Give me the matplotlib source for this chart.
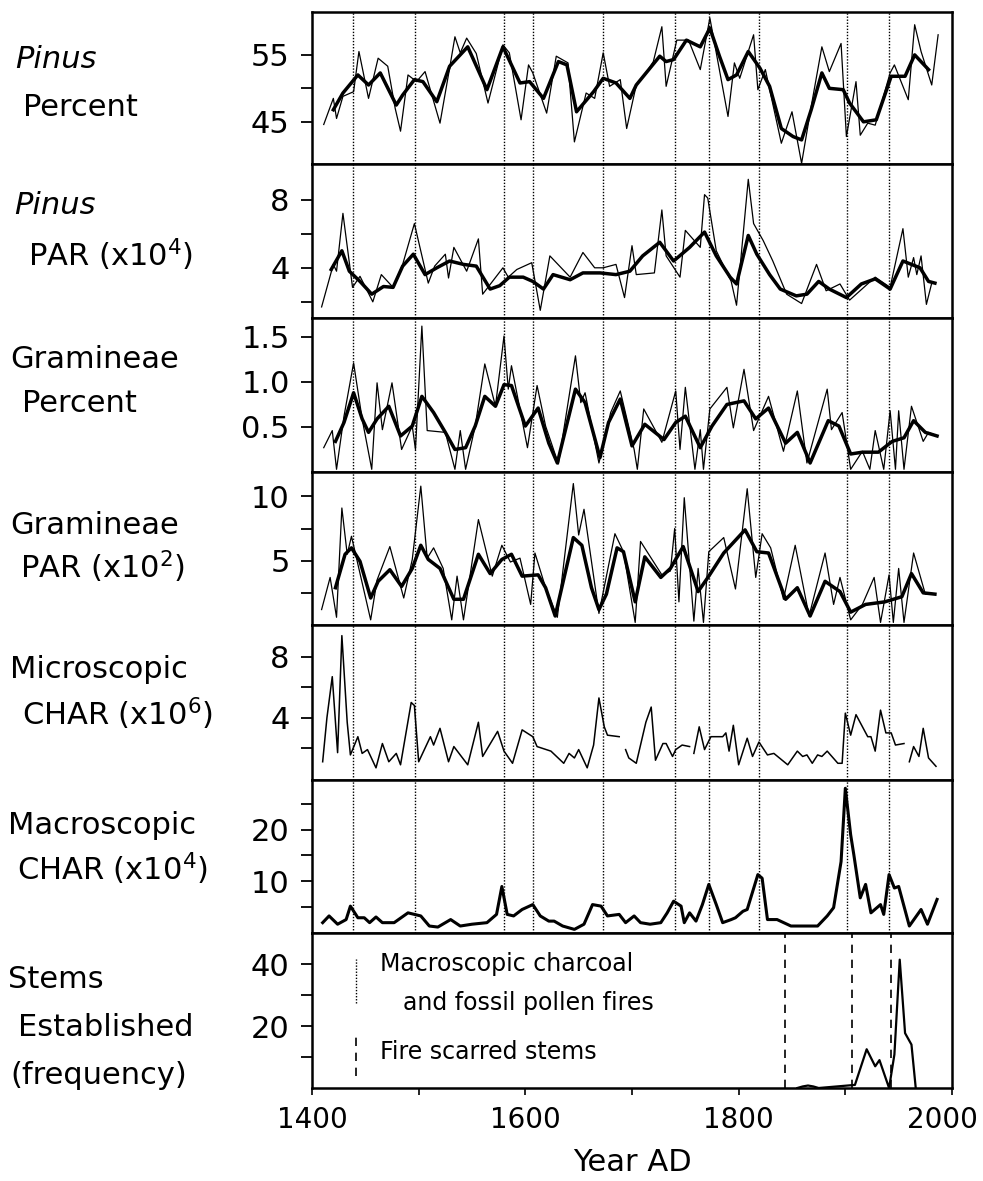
import matplotlib
matplotlib.use("Agg")
import matplotlib.pyplot as plt
from matplotlib.transforms import ScaledTranslation
import numpy as np

plt.rcParams['font.family'] = ['DejaVu Sans']
plt.rcParams['mathtext.fontset'] = 'dejavusans'

# --- fire events (dotted lines, panels 1-6) and fire scarred stems (dashed, panel 7)
fire_years = [1438, 1497, 1580, 1607, 1673, 1740, 1772, 1819, 1902, 1941]
scar_years = [1843, 1906, 1943]

# --- Pinus percent
pin_pct_yr = [1411, 1420, 1423, 1429, 1439, 1444, 1453, 1462, 1471, 1478, 1483, 1490, 1498, 1506,
              1520, 1529, 1534, 1539, 1545, 1554, 1565, 1579, 1585, 1596, 1603, 1607, 1620, 1629,
              1640, 1646, 1657, 1665, 1673, 1679, 1689, 1695, 1704, 1712, 1720, 1728, 1732, 1742,
              1753, 1764, 1773, 1790, 1796, 1801, 1814, 1818, 1825, 1840, 1850, 1859, 1868, 1878,
              1885, 1896, 1901, 1910, 1914, 1921, 1928, 1942, 1946, 1959, 1965, 1971, 1981, 1987]
pin_pct = [44.6, 48.5, 45.5, 48.8, 49.5, 55.5, 48.5, 54.5, 53.3, 47.0, 43.6, 52.0, 51.0, 52.5,
           44.8, 53.0, 57.7, 55.3, 57.5, 55.2, 47.8, 56.5, 55.3, 45.3, 53.5, 52.3, 46.3, 54.8,
           53.8, 42.0, 49.3, 48.5, 55.3, 50.3, 51.3, 44.0, 50.5, 52.0, 54.0, 59.2, 50.3, 57.2,
           57.2, 52.8, 60.5, 45.8, 53.8, 51.5, 58.0, 49.8, 52.8, 41.8, 46.5, 38.8, 47.3, 56.2,
           52.5, 56.7, 42.8, 51.0, 43.0, 44.8, 44.5, 52.3, 53.5, 48.3, 59.5, 55.5, 50.5, 58.0]
pin_pct_sm_yr = [1420, 1429, 1443, 1453, 1464, 1479, 1485, 1496, 1504, 1517, 1529, 1546, 1564,
                 1579, 1595, 1604, 1617, 1631, 1639, 1648, 1664, 1673, 1685, 1698, 1704, 1726,
                 1732, 1739, 1751, 1764, 1773, 1782, 1790, 1798, 1809, 1820, 1829, 1840, 1851,
                 1859, 1868, 1878, 1885, 1898, 1904, 1917, 1929, 1943, 1956, 1965, 1978]
pin_pct_sm = [46.8, 49.3, 52.0, 50.5, 52.3, 47.5, 49.0, 51.3, 51.0, 48.0, 53.3, 56.2, 49.8,
              56.2, 50.8, 51.0, 48.5, 54.0, 53.5, 46.5, 49.5, 51.5, 50.8, 48.5, 50.5, 54.8,
              54.0, 54.3, 57.2, 56.2, 59.0, 54.8, 51.3, 52.0, 55.5, 53.0, 50.3, 44.0, 42.8,
              42.3, 46.8, 52.3, 50.0, 49.8, 47.8, 45.0, 45.3, 51.8, 51.8, 55.0, 52.8]

# --- Pinus PAR (x10^4)
pin_par_yr = [1409, 1420, 1423, 1429, 1438, 1445, 1457, 1465, 1476, 1485, 1496, 1509, 1515, 1525,
              1528, 1533, 1545, 1556, 1560, 1579, 1584, 1592, 1606, 1614, 1623, 1642, 1654, 1665,
              1673, 1685, 1693, 1700, 1704, 1721, 1728, 1732, 1745, 1750, 1764, 1768, 1771, 1779,
              1793, 1798, 1809, 1814, 1823, 1832, 1845, 1859, 1873, 1882, 1895, 1904, 1928, 1942,
              1954, 1959, 1964, 1967, 1971, 1976, 1981, 1984]
pin_par = [1.7, 4.2, 3.8, 7.2, 2.85, 3.5, 2.0, 3.6, 2.85, 4.2, 6.6, 3.1, 4.1, 4.8,
           3.4, 5.2, 3.8, 5.7, 2.45, 4.0, 3.45, 3.9, 4.3, 1.5, 4.7, 3.45, 4.9, 4.0,
           4.0, 4.2, 2.25, 5.3, 3.6, 3.7, 7.4, 4.7, 3.45, 6.2, 5.2, 8.3, 8.1, 5.0,
           3.2, 1.8, 9.2, 6.6, 5.6, 4.4, 2.45, 1.9, 4.2, 2.65, 3.05, 2.1, 3.45, 2.85,
           6.3, 3.45, 4.6, 3.6, 4.7, 1.85, 3.1, 3.1]
pin_par_sm_yr = [1418, 1428, 1435, 1445, 1456, 1467, 1476, 1485, 1495, 1506, 1517, 1529, 1542,
                 1554, 1567, 1576, 1585, 1598, 1607, 1617, 1626, 1642, 1654, 1670, 1685, 1698,
                 1710, 1726, 1739, 1754, 1768, 1779, 1792, 1798, 1809, 1817, 1829, 1839, 1854,
                 1864, 1875, 1885, 1901, 1915, 1928, 1942, 1954, 1970, 1978, 1984]
pin_par_sm = [3.9, 5.0, 3.8, 3.2, 2.45, 2.9, 2.85, 4.1, 4.8, 3.6, 4.0, 4.4, 4.2,
              4.1, 2.75, 2.95, 3.45, 3.45, 3.2, 2.75, 3.6, 3.3, 3.7, 3.7, 3.6, 3.8,
              4.7, 5.5, 4.4, 5.2, 6.1, 4.7, 3.45, 3.05, 5.9, 4.8, 3.6, 2.75, 2.35,
              2.45, 3.2, 2.75, 2.25, 3.05, 3.35, 2.75, 4.4, 4.0, 3.2, 3.1]

# --- Gramineae percent
gra_pct_yr = [1411, 1419, 1423, 1430, 1439, 1447, 1456, 1461, 1466, 1475, 1484, 1494, 1497, 1503,
              1508, 1525, 1534, 1539, 1544, 1553, 1562, 1572, 1580, 1584, 1587, 1602, 1611, 1619,
              1631, 1647, 1652, 1656, 1669, 1680, 1689, 1702, 1705, 1711, 1728, 1741, 1745, 1750,
              1759, 1764, 1767, 1773, 1789, 1795, 1805, 1814, 1828, 1842, 1855, 1864, 1883, 1887,
              1897, 1905, 1916, 1923, 1928, 1936, 1942, 1947, 1950, 1955, 1962, 1973, 1978, 1986]
gra_pct = [0.27, 0.46, 0.03, 0.62, 1.21, 0.59, 0.03, 0.99, 0.47, 0.99, 0.25, 0.51, 0.25, 1.62,
           0.46, 0.44, 0.03, 0.46, 0.03, 0.51, 1.20, 0.73, 1.51, 0.92, 1.18, 0.27, 0.96, 0.51,
           0.09, 1.29, 0.77, 0.88, 0.10, 0.66, 0.90, 0.25, 0.03, 0.70, 0.33, 0.90, 0.25, 0.94,
           0.03, 0.47, 0.03, 0.70, 0.94, 0.49, 1.14, 0.46, 0.84, 0.23, 0.90, 0.10, 0.92, 0.47,
           0.66, 0.03, 0.23, 0.03, 0.46, 0.03, 0.68, 0.03, 0.68, 0.03, 0.73, 0.34, 0.44, 0.40]
gra_pct_sm_yr = [1422, 1430, 1439, 1447, 1453, 1461, 1472, 1483, 1494, 1503, 1514, 1525, 1534,
                 1544, 1553, 1562, 1572, 1580, 1587, 1600, 1612, 1622, 1630, 1647, 1656, 1670,
                 1678, 1689, 1700, 1712, 1730, 1741, 1750, 1764, 1775, 1789, 1805, 1816, 1828,
                 1844, 1855, 1867, 1884, 1894, 1905, 1916, 1931, 1944, 1955, 1964, 1975, 1986]
gra_pct_sm = [0.34, 0.55, 0.88, 0.59, 0.44, 0.59, 0.73, 0.40, 0.51, 0.84, 0.66, 0.44, 0.25,
              0.27, 0.51, 0.84, 0.73, 0.97, 0.96, 0.51, 0.71, 0.32, 0.10, 0.92, 0.77, 0.16,
              0.55, 0.81, 0.29, 0.53, 0.36, 0.55, 0.62, 0.27, 0.51, 0.75, 0.79, 0.59, 0.71,
              0.32, 0.44, 0.10, 0.57, 0.51, 0.20, 0.22, 0.22, 0.34, 0.38, 0.57, 0.44, 0.40]

# --- Gramineae PAR (x10^2)
gra_par_yr = [1409, 1417, 1423, 1428, 1433, 1437, 1455, 1461, 1473, 1486, 1494, 1502, 1508, 1514,
              1523, 1531, 1536, 1542, 1556, 1569, 1578, 1586, 1595, 1605, 1609, 1619, 1630, 1645,
              1650, 1655, 1669, 1684, 1692, 1703, 1708, 1728, 1736, 1740, 1744, 1749, 1758, 1762,
              1767, 1772, 1786, 1797, 1808, 1816, 1822, 1830, 1842, 1853, 1866, 1881, 1889, 1895,
              1905, 1916, 1927, 1933, 1941, 1945, 1950, 1955, 1964, 1975, 1984]
gra_par = [1.2, 3.7, 0.6, 9.1, 5.5, 6.9, 0.4, 3.5, 6.1, 2.1, 5.1, 10.8, 5.2, 6.0,
           4.4, 0.4, 3.8, 0.4, 8.2, 3.8, 6.2, 4.9, 5.2, 1.6, 5.6, 2.9, 0.6, 11.0,
           7.0, 9.0, 0.9, 7.1, 5.7, 0.2, 6.5, 3.9, 4.2, 7.5, 1.8, 9.9, 0.3, 4.4,
           0.2, 5.7, 6.8, 2.8, 10.6, 3.7, 7.1, 6.0, 2.0, 6.2, 0.7, 5.6, 1.6, 3.7,
           0.4, 1.6, 3.7, 0.2, 3.9, 0.2, 4.4, 0.2, 5.6, 2.4, 2.4]
gra_par_sm_yr = [1422, 1431, 1437, 1445, 1455, 1462, 1473, 1484, 1494, 1502, 1509, 1520, 1533,
                 1542, 1556, 1567, 1578, 1587, 1597, 1612, 1619, 1628, 1645, 1653, 1662, 1669,
                 1676, 1686, 1692, 1703, 1712, 1727, 1736, 1748, 1762, 1772, 1786, 1806, 1817,
                 1828, 1844, 1855, 1867, 1881, 1895, 1905, 1919, 1937, 1953, 1962, 1973, 1984]
gra_par_sm = [2.9, 5.5, 6.0, 4.95, 2.1, 3.4, 4.3, 3.0, 4.4, 6.2, 5.1, 4.4, 2.0,
              2.0, 5.5, 4.0, 5.1, 5.5, 3.8, 3.9, 2.9, 0.7, 6.8, 6.2, 2.9, 1.2,
              2.4, 6.0, 5.7, 1.8, 5.3, 3.7, 4.4, 6.1, 2.6, 3.8, 5.6, 7.4, 5.7,
              5.6, 2.0, 2.9, 0.7, 3.4, 2.6, 1.0, 1.6, 1.8, 2.2, 4.0, 2.5, 2.4]

# --- Microscopic CHAR (x10^6), nan = gap in record
mic_yr = [1410, 1414, 1419, 1424, 1428, 1433, 1436, 1443, 1447, 1452, 1460, 1466, 1472, 1479,
          1483, 1493, 1496, 1500, 1511, 1514, 1520, 1528, 1533, 1546, 1556, 1560, 1574, 1580,
          1588, 1597, 1607, 1611, 1624, 1636, 1641, 1646, 1650, 1658, 1664, 1669, 1674, 1677,
          1688, 1691, 1694, 1697, 1704, 1713, 1718, 1722, 1729, 1732, 1738, 1741, 1747, 1754,
          1756, 1758, 1763, 1768, 1774, 1785, 1788, 1791, 1795, 1800, 1808, 1813, 1819, 1827,
          1833, 1846, 1855, 1860, 1864, 1869, 1874, 1878, 1883, 1893, 1897, 1900, 1905, 1910,
          1921, 1924, 1928, 1933, 1938, 1943, 1947, 1955, 1957, 1960, 1964, 1969, 1973, 1978, 1985]
mic = [1.1, 4.0, 6.7, 1.7, 9.4, 3.7, 1.55, 2.75, 1.65, 1.9, 0.7, 2.3, 1.1, 1.65,
       0.9, 5.0, 4.8, 1.1, 2.75, 2.2, 3.3, 1.1, 2.1, 0.9, 3.7, 1.45, 3.1, 1.8,
       1.0, 3.2, 2.75, 2.1, 1.8, 1.0, 1.65, 1.35, 1.9, 0.7, 2.2, 5.3, 3.4, 2.85,
       2.75, np.nan, 1.9, 1.35, 1.0, 3.7, 4.7, 1.2, 2.3, 2.3, 1.45, 1.9, 2.2, 2.1,
       np.nan, 1.65, 3.4, 1.9, 2.75, 2.75, 3.0, 1.8, 3.5, 0.9, 2.65, 1.45, 2.4, 1.55,
       1.65, 0.9, 1.8, 1.45, 1.55, 1.0, 1.55, 1.45, 1.8, 1.0, 1.0, 4.3, 2.85, 4.2,
       2.75, 2.75, 1.8, 4.5, 3.0, 3.0, 2.2, 2.3, np.nan, 1.1, 2.1, 1.45, 3.3, 1.35, 0.8]

# --- Macroscopic CHAR (x10^4)
mac_yr = [1410, 1416, 1424, 1432, 1436, 1443, 1449, 1454, 1460, 1466, 1477, 1490, 1496, 1502,
          1510, 1518, 1530, 1539, 1550, 1564, 1573, 1578, 1583, 1589, 1597, 1607, 1614, 1622,
          1627, 1635, 1646, 1655, 1663, 1671, 1677, 1688, 1694, 1702, 1708, 1717, 1727, 1733,
          1739, 1746, 1749, 1754, 1760, 1766, 1772, 1779, 1785, 1793, 1797, 1804, 1808, 1818,
          1822, 1827, 1836, 1849, 1858, 1874, 1883, 1889, 1896, 1900, 1905, 1908, 1914, 1919,
          1924, 1933, 1936, 1941, 1946, 1950, 1960, 1971, 1977, 1986]
mac = [2.0, 3.3, 1.7, 2.6, 5.2, 2.95, 2.95, 2.0, 3.1, 2.0, 2.0, 3.9, 3.6, 3.3,
       1.35, 1.15, 2.6, 1.35, 1.7, 2.0, 3.6, 9.0, 3.6, 3.3, 4.55, 5.5, 3.3, 2.3,
       2.3, 1.35, 0.7, 1.7, 5.5, 5.2, 3.3, 3.6, 2.0, 3.3, 2.0, 1.7, 2.0, 3.9,
       6.15, 5.2, 2.0, 3.9, 2.3, 5.5, 9.4, 5.5, 2.0, 2.6, 2.95, 4.2, 4.55, 11.3,
       10.6, 2.6, 2.6, 1.35, 1.35, 1.35, 3.3, 4.9, 13.8, 28.0, 19.0, 15.1, 6.8, 9.4,
       3.9, 5.5, 3.6, 11.3, 8.7, 9.0, 1.35, 4.55, 1.7, 6.5]

# --- Stems established (frequency)
stem_yr = [1855, 1860, 1865, 1870, 1875, 1909, 1920, 1928, 1932, 1941, 1946, 1951, 1956, 1962, 1966]
stems = [0, 0.5, 0.8, 0.5, 0, 1, 12.5, 7, 9, 0, 10.8, 41.4, 17.7, 14, 0]

# ---------------------------------------------------------------- figure
W, H = 983, 1181
fig = plt.figure(figsize=(W / 100, H / 100), dpi=100)
edges = [12, 164, 318, 472, 625, 780, 933, 1088]
x0, x1 = 312, 952
FS = 22

axes = []
for i in range(7):
    ax = fig.add_axes([x0 / W, 1 - edges[i + 1] / H, (x1 - x0) / W,
                       (edges[i + 1] - edges[i]) / H])
    ax.set_xlim(1400, 2000)
    for s in ax.spines.values():
        s.set_linewidth(1.8)
    ax.tick_params(axis='y', direction='out', length=8, width=1.3, pad=8, labelsize=FS)
    if i < 6:
        ax.tick_params(axis='x', bottom=False, labelbottom=False)
        for fy in fire_years:
            ax.axvline(fy, color='black', lw=1.0, ls=(0, (1, 1.2)), zorder=1)
    axes.append(ax)

thin = dict(color='black', lw=0.9, zorder=2)
thick = dict(color='black', lw=2.5, zorder=3)

ax = axes[0]
ax.plot(pin_pct_yr, pin_pct, **thin)
ax.plot(pin_pct_sm_yr, pin_pct_sm, **thick)
ax.set_ylim(38.7, 61.4)
ax.set_yticks([45, 50, 55], ['45', '', '55'])

ax = axes[1]
ax.plot(pin_par_yr, pin_par, **thin)
ax.plot(pin_par_sm_yr, pin_par_sm, **thick)
ax.set_ylim(1.05, 10.1)
ax.set_yticks([2, 4, 6, 8], ['', '4', '', '8'])

ax = axes[2]
ax.plot(gra_pct_yr, gra_pct, **thin)
ax.plot(gra_pct_sm_yr, gra_pct_sm, **thick)
ax.set_ylim(0, 1.71)
ax.set_yticks([0.5, 1.0, 1.5], ['0.5', '1.0', '1.5'])

ax = axes[3]
ax.plot(gra_par_yr, gra_par, **thin)
ax.plot(gra_par_sm_yr, gra_par_sm, **thick)
ax.set_ylim(0, 11.9)
ax.set_yticks([2.5, 5, 7.5, 10], ['', '5', '', '10'])

ax = axes[4]
ax.plot(mic_yr, mic, color='black', lw=1.1, zorder=2)
ax.set_ylim(-0.1, 10.1)
ax.set_yticks([2, 4, 6, 8], ['', '4', '', '8'])

ax = axes[5]
ax.plot(mac_yr, mac, color='black', lw=2.2, zorder=2)
ax.set_ylim(0, 29.6)
ax.set_yticks([5, 10, 15, 20, 25], ['', '10', '', '20', ''])

ax = axes[6]
ax.plot(stem_yr, stems, color='black', lw=1.6, zorder=2)
for sy in scar_years:
    ax.axvline(sy, color='black', lw=1.2, ls=(0, (5, 4)), zorder=1)
ax.set_ylim(0, 50)
ax.set_yticks([10, 20, 30, 40], ['', '20', '', '40'])
ax.set_xticks([1400, 1500, 1600, 1700, 1800, 1900, 2000],
              ['1400', '', '1600', '', '1800', '', '2000'])
ax.tick_params(axis='x', direction='out', length=5, width=1.2, pad=8, labelsize=20)
ax.set_xlabel('Year AD', fontsize=FS, labelpad=10)
# keep the last year label inside the figure
last = ax.get_xticklabels()[-1]
last.set_transform(last.get_transform() + ScaledTranslation(-7 / 72, 0, fig.dpi_scale_trans))

# legend samples inside the bottom panel
ax.plot([0.068, 0.068], [0.55, 0.83], transform=ax.transAxes, color='black', lw=1.0,
        ls=(0, (1, 1.2)))
ax.plot([0.068, 0.068], [0.08, 0.37], transform=ax.transAxes, color='black', lw=1.2,
        ls=(0, (5, 4)))
ax.text(0.106, 0.80, 'Macroscopic charcoal', transform=ax.transAxes, fontsize=17, va='center')
ax.text(0.142, 0.55, 'and fossil pollen fires', transform=ax.transAxes, fontsize=17, va='center')
ax.text(0.106, 0.23, 'Fire scarred stems', transform=ax.transAxes, fontsize=17, va='center')

# panel names on the left
names = [
    ('Pinus', 15, 60, 'italic'), ('Percent', 23, 107, 'normal'),
    ('Pinus', 14, 205, 'italic'), ('PAR (x10$^{4}$)', 28, 255, 'normal'),
    ('Gramineae', 10, 360, 'normal'), ('Percent', 22, 403, 'normal'),
    ('Gramineae', 10, 525, 'normal'), ('PAR (x10$^{2}$)', 20, 567, 'normal'),
    ('Microscopic', 10, 670, 'normal'), ('CHAR (x10$^{6}$)', 22, 714, 'normal'),
    ('Macroscopic', 8, 826, 'normal'), ('CHAR (x10$^{4}$)', 17, 869, 'normal'),
    ('Stems', 8, 980, 'normal'), ('Established', 18, 1028, 'normal'),
    ('(frequency)', 10, 1075, 'normal'),
]
for txt, px, py, style in names:
    fig.text(px / W, 1 - py / H, txt, fontsize=FS, style=style, ha='left', va='center')

fig.savefig('out.png', dpi=100)
